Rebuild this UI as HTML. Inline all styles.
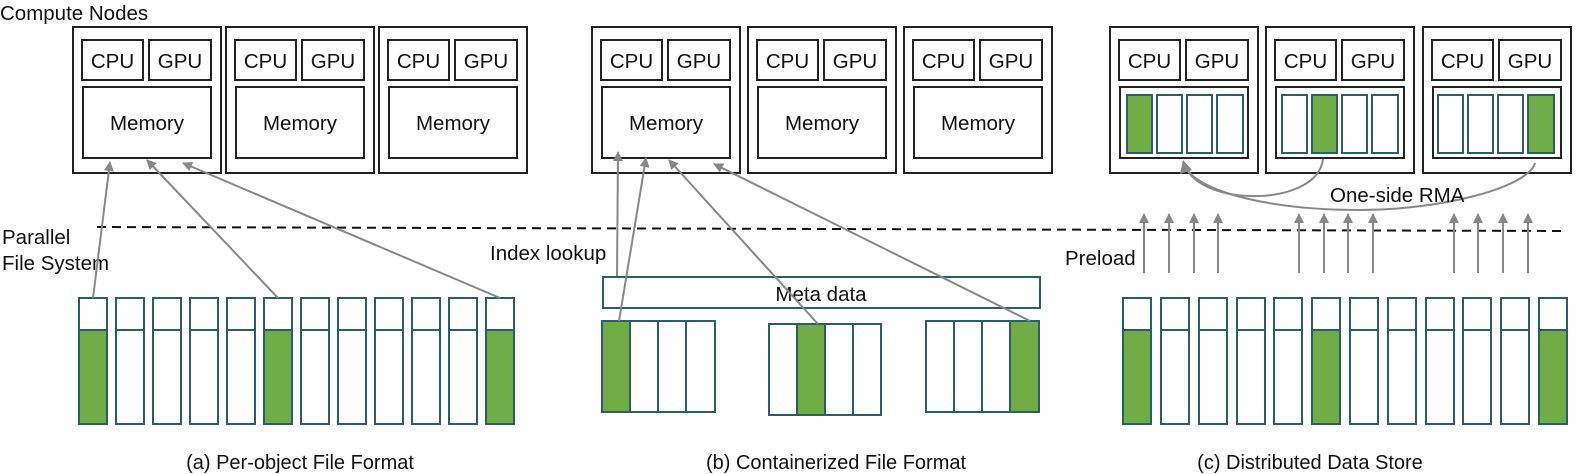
<!DOCTYPE html>
<html><head><meta charset="utf-8"><style>
html,body{margin:0;padding:0;background:#fff;}
svg{display:block;}
text{font-family:"Liberation Sans",sans-serif;fill:#111;}
</style></head><body>
<svg width="1578" height="474" viewBox="0 0 1578 474" xmlns="http://www.w3.org/2000/svg">
<defs>
<marker id="ah" viewBox="0 0 10 10" refX="9" refY="5" markerWidth="10" markerHeight="10" markerUnits="userSpaceOnUse" orient="auto">
<path d="M0,0 L10,5 L0,10 z" fill="#888"/></marker>
<g id="node">
<rect x="0" y="0" width="148" height="146" fill="#fff" stroke="#222" stroke-width="2"/>
<rect x="9" y="13" width="61" height="40" fill="#fff" stroke="#222" stroke-width="2"/>
<rect x="76" y="13" width="62" height="40" fill="#fff" stroke="#222" stroke-width="2"/>
<text x="39.5" y="41" font-size="20.5" text-anchor="middle">CPU</text>
<text x="107" y="41" font-size="20.5" text-anchor="middle">GPU</text>
</g>
<g id="mem">
<rect x="10" y="60" width="128" height="71" fill="#fff" stroke="#222" stroke-width="2"/>
<text x="74" y="103" font-size="20.5" text-anchor="middle">Memory</text>
</g>
<g id="cmem">
<rect x="10" y="60" width="128" height="71" fill="#fff" stroke="#222" stroke-width="2"/>
</g>
<g id="bar">
<rect x="0" y="298" width="28" height="126" fill="#fff" stroke="#2d5f62" stroke-width="2"/>
<line x1="0" y1="330" x2="28" y2="330" stroke="#2d5f62" stroke-width="2"/>
</g>
<g id="gbar">
<rect x="0" y="298" width="28" height="126" fill="#fff" stroke="#2d5f62" stroke-width="2"/>
<rect x="0" y="330" width="28" height="94" fill="#70ad47" stroke="#2d5f62" stroke-width="2"/>
</g>
</defs>

<text x="0" y="20" font-size="20.5">Compute Nodes</text>
<text x="2" y="244" font-size="20.5">Parallel</text>
<text x="2" y="270" font-size="20.5">File System</text>

<line x1="97" y1="227" x2="1565" y2="231" stroke="#111" stroke-width="2" stroke-dasharray="9,6"/>

<g transform="translate(73,27)"><use href="#node"/><use href="#mem"/></g>
<g transform="translate(226,27)"><use href="#node"/><use href="#mem"/></g>
<g transform="translate(379,27)"><use href="#node"/><use href="#mem"/></g>

<use href="#gbar" x="79"/><use href="#bar" x="116"/><use href="#bar" x="153"/><use href="#bar" x="190"/>
<use href="#bar" x="227"/><use href="#gbar" x="264"/><use href="#bar" x="301"/><use href="#bar" x="338"/>
<use href="#bar" x="375"/><use href="#bar" x="412"/><use href="#bar" x="449"/><use href="#gbar" x="486"/>

<g stroke="#888" stroke-width="2" fill="none" marker-end="url(#ah)">
<line x1="93" y1="298" x2="110" y2="162"/>
<line x1="278" y1="298" x2="147" y2="160"/>
<line x1="500" y1="298" x2="183" y2="163"/>
</g>
<text x="300" y="469" font-size="20" text-anchor="middle">(a) Per-object File Format</text>

<g transform="translate(592,27)"><use href="#node"/><use href="#mem"/></g>
<g transform="translate(748,27)"><use href="#node"/><use href="#mem"/></g>
<g transform="translate(904,27)"><use href="#node"/><use href="#mem"/></g>

<text x="490" y="260" font-size="20.5">Index lookup</text>
<rect x="603" y="277" width="437" height="31" fill="#fff" stroke="#2d5f62" stroke-width="2"/>
<text x="821" y="301" font-size="20.5" text-anchor="middle">Meta data</text>

<g stroke="#2d5f62" stroke-width="2" fill="#fff">
<rect x="602" y="321" width="28" height="91" fill="#70ad47"/><rect x="630" y="321" width="28" height="91"/><rect x="658" y="321" width="28" height="91"/><rect x="686" y="321" width="29" height="91"/>
<rect x="769" y="324" width="28" height="91"/><rect x="797" y="324" width="28" height="91" fill="#70ad47"/><rect x="825" y="324" width="28" height="91"/><rect x="853" y="324" width="28" height="91"/>
<rect x="926" y="321" width="28" height="91"/><rect x="954" y="321" width="28" height="91"/><rect x="982" y="321" width="28" height="91"/><rect x="1010" y="321" width="29" height="91" fill="#70ad47"/>
</g>
<g stroke="#888" stroke-width="2" fill="none" marker-end="url(#ah)">
<line x1="617" y1="276" x2="618" y2="152"/>
<line x1="619" y1="321" x2="646" y2="158"/>
<line x1="818" y1="324" x2="669" y2="160"/>
<line x1="1030" y1="321" x2="714" y2="164"/>
</g>
<text x="836" y="469" font-size="20" text-anchor="middle">(b) Containerized File Format</text>

<g transform="translate(1110,27)"><use href="#node"/><use href="#cmem"/></g>
<g transform="translate(1266,27)"><use href="#node"/><use href="#cmem"/></g>
<g transform="translate(1423,27)"><use href="#node"/><use href="#cmem"/></g>
<g stroke="#2d5f62" stroke-width="2" fill="#fff">
<rect x="1127" y="95" width="25" height="58" fill="#70ad47"/><rect x="1157" y="95" width="25" height="58"/><rect x="1187" y="95" width="25" height="58"/><rect x="1217" y="95" width="26" height="58"/>
<rect x="1282" y="95" width="25" height="58"/><rect x="1312" y="95" width="25" height="58" fill="#70ad47"/><rect x="1342" y="95" width="25" height="58"/><rect x="1372" y="95" width="26" height="58"/>
<rect x="1438" y="95" width="25" height="58"/><rect x="1468" y="95" width="25" height="58"/><rect x="1498" y="95" width="25" height="58"/><rect x="1528" y="95" width="26" height="58" fill="#70ad47"/>
</g>

<use href="#gbar" x="1123"/><use href="#bar" x="1161"/><use href="#bar" x="1199"/><use href="#bar" x="1237"/>
<use href="#bar" x="1274"/><use href="#gbar" x="1312"/><use href="#bar" x="1350"/><use href="#bar" x="1388"/>
<use href="#bar" x="1426"/><use href="#bar" x="1463"/><use href="#bar" x="1501"/><use href="#gbar" x="1539"/>

<g stroke="#888" stroke-width="2" fill="none" marker-end="url(#ah)">
<line x1="1144" y1="273" x2="1144" y2="214"/><line x1="1169" y1="273" x2="1169" y2="214"/><line x1="1194" y1="273" x2="1194" y2="214"/><line x1="1218" y1="273" x2="1218" y2="214"/>
<line x1="1299" y1="273" x2="1299" y2="214"/><line x1="1324" y1="273" x2="1324" y2="214"/><line x1="1348" y1="273" x2="1348" y2="214"/><line x1="1373" y1="273" x2="1373" y2="214"/>
<line x1="1454" y1="273" x2="1454" y2="214"/><line x1="1478" y1="273" x2="1478" y2="214"/><line x1="1503" y1="273" x2="1503" y2="214"/><line x1="1528" y1="273" x2="1528" y2="214"/>
</g>
<g stroke="#888" stroke-width="2" fill="none">
<path d="M1323,159 C1320,185 1285,197 1250,196 C1215,195 1193,182 1186,168"/>
<path d="M1535,163 C1528,188 1440,210 1360,210 C1270,210 1200,192 1186,168"/>
</g>
<path d="M1183,160 L1180,174 L1192,170 z" fill="#888"/>
<text x="1330" y="202" font-size="20.5">One-side RMA</text>
<text x="1065" y="265" font-size="20.5">Preload</text>
<text x="1310" y="469" font-size="20" text-anchor="middle">(c) Distributed Data Store</text>
</svg>
</body></html>
